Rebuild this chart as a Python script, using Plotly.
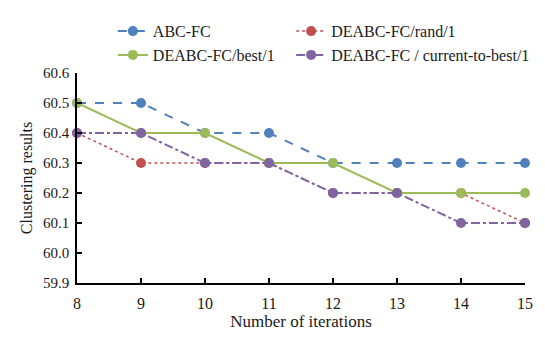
import plotly.graph_objects as go

iterations = [8, 9, 10, 11, 12, 13, 14, 15]
abc_fc = [60.5, 60.5, 60.4, 60.4, 60.3, 60.3, 60.3, 60.3]
de_rand1 = [60.4, 60.3, 60.3, 60.3, 60.2, 60.2, 60.2, 60.1]
de_best1 = [60.5, 60.4, 60.4, 60.3, 60.3, 60.2, 60.2, 60.2]
de_ctb1 = [60.4, 60.4, 60.3, 60.3, 60.2, 60.2, 60.1, 60.1]
y_ticks = [59.9, 60.0, 60.1, 60.2, 60.3, 60.4, 60.5, 60.6]

FONT = "Liberation Serif, Times New Roman, DejaVu Serif, serif"
TXT = "#1a1a1a"

series = [
    ("ABC-FC", abc_fc, "#4F81BD", "dash", 2, "legend"),
    ("DEABC-FC/rand/1", de_rand1, "#C0504D", "dot", 1.5, "legend2"),
    ("DEABC-FC/best/1", de_best1, "#9BBB59", "solid", 2, "legend"),
    ("DEABC-FC / current-to-best/1", de_ctb1, "#8064A2", "dashdot", 2, "legend2"),
]

fig = go.Figure()
for name, vals, color, dash, w, lg in series:
    fig.add_trace(go.Scatter(
        x=iterations, y=vals, name=name, mode="lines+markers",
        line=dict(color=color, dash=dash, width=w),
        marker=dict(color=color, size=10),
        cliponaxis=False, legend=lg,
    ))

legend_common = dict(
    orientation="v", yanchor="top", xanchor="left",
    font=dict(family=FONT, size=16, color=TXT),
    tracegroupgap=0, itemwidth=30, bgcolor="rgba(0,0,0,0)",
    traceorder="normal",
)

fig.update_layout(
    width=545, height=338,
    margin=dict(l=77, r=20, t=73, b=55, autoexpand=False),
    paper_bgcolor="white", plot_bgcolor="white",
    font=dict(family=FONT, size=16, color=TXT),
    showlegend=True,
    legend=dict(x=0.08, y=1.28, **legend_common),
    legend2=dict(x=0.478, y=1.28, **legend_common),
    xaxis=dict(
        range=[8, 15], tickvals=iterations, ticks="inside", ticklen=5,
        tickwidth=1.5, tickcolor="black", automargin=False,
        showline=True, linecolor="black", linewidth=1.5, showgrid=False,
        zeroline=False, ticklabelstandoff=5,
        title=dict(text="Number of iterations", font=dict(family=FONT, size=17, color=TXT), standoff=4),
        tickfont=dict(family=FONT, size=16, color=TXT),
    ),
    yaxis=dict(
        range=[59.9, 60.6], tickvals=y_ticks, ticktext=[f"{v:.1f}" for v in y_ticks],
        ticks="inside", ticklen=5, tickwidth=1.5, tickcolor="black", automargin=False,
        showline=True, linecolor="black", linewidth=1.5, showgrid=False,
        zeroline=False, ticklabelstandoff=3,
        title=dict(text="Clustering results", font=dict(family=FONT, size=16, color=TXT), standoff=6),
        tickfont=dict(family=FONT, size=15, color=TXT),
    ),
)

fig.write_html("out.html", config={"displayModeBar": False},
               post_script="document.body.style.margin='0';")
